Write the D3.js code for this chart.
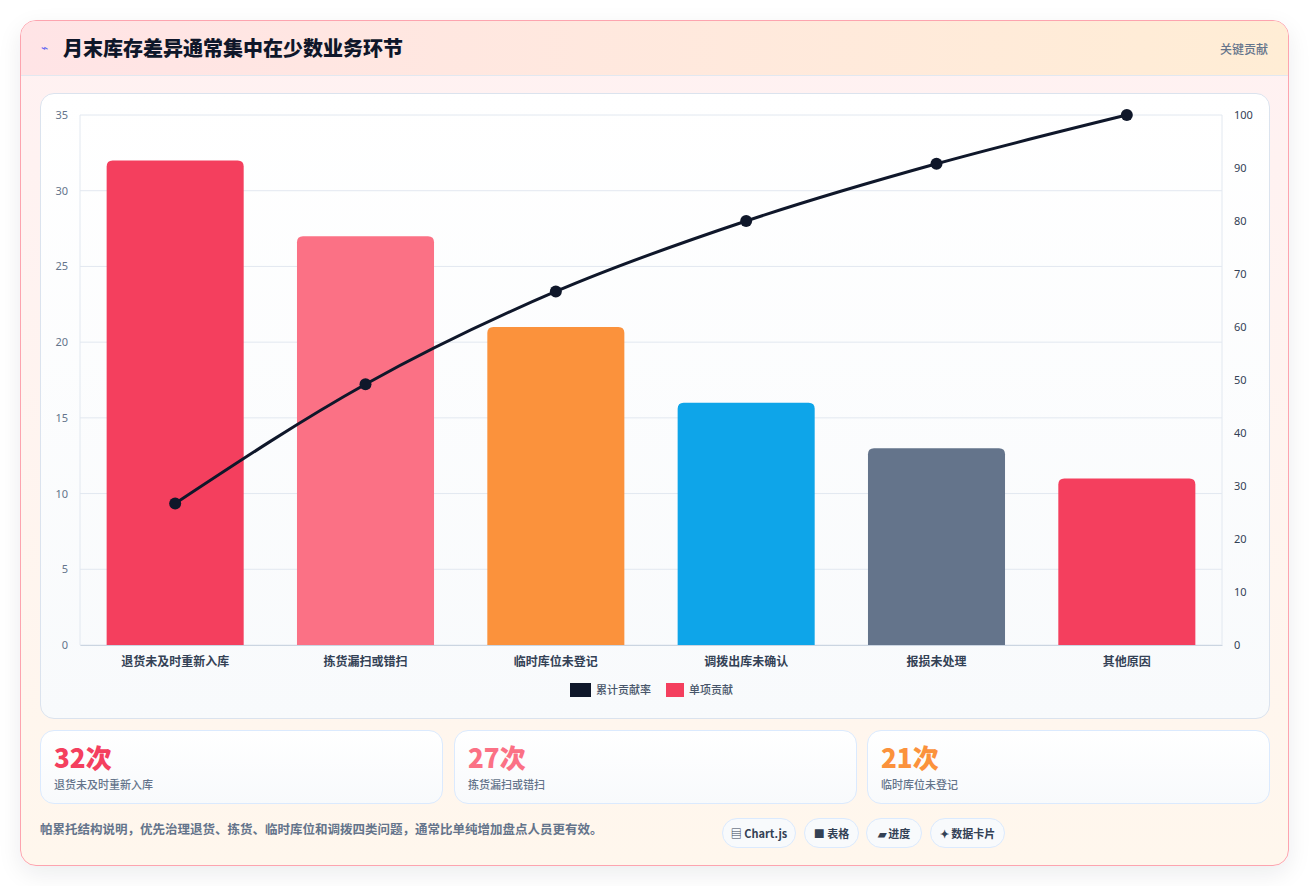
<!DOCTYPE html>
<html><head><meta charset="utf-8">
<script src="https://cdn.jsdelivr.net/npm/d3@7/dist/d3.min.js"></script>
<style>
*{box-sizing:border-box}
body{margin:0;width:1309px;height:886px;background:#fff;font-family:"Noto Sans CJK SC","Noto Sans",sans-serif;position:relative;overflow:hidden}
.card{position:absolute;left:20px;top:20px;width:1269px;height:846px;border:1px solid #fda4af;border-radius:16px;background:linear-gradient(180deg,#fff1f2,#fff7ed);box-shadow:0 8px 24px rgba(15,23,42,.08);overflow:hidden}
.hdr{position:absolute;left:0;top:0;right:0;height:55px;background:linear-gradient(90deg,#ffe4e6,#ffedd5);border-bottom:1px solid #e2e8f0}
.hdr .t{position:absolute;left:42px;top:12px;font-size:20px;font-weight:900;color:#0f172a}
.hdr .ic{position:absolute;left:20px;top:17px;font-size:12px;color:#6366f1}
.hdr .r{position:absolute;right:20px;top:19px;font-size:12px;color:#64748b;font-weight:500}
.panel{position:absolute;left:19px;top:72px;width:1230px;height:626px;background:linear-gradient(180deg,#fff,#f8fafc);border:1px solid #dbe3ee;border-radius:14px}
svg{position:absolute;left:0;top:0}
.kpi{position:absolute;top:709px;width:403px;height:74px;border:1px solid #dbeafe;border-radius:14px;background:linear-gradient(180deg,#fff,#f8fafc)}
.kpi .v{position:absolute;left:13px;top:7px;font-size:26px;font-weight:900}
.kpi .l{position:absolute;left:13px;top:45px;font-size:11px;color:#64748b;font-weight:500}
.foot{position:absolute;left:19px;top:798px;font-size:12.5px;color:#64748b;font-weight:700}
.btn{position:absolute;top:797px;height:30px;border:1px solid #dbeafe;border-radius:15px;background:#f8fafc;font-size:11px;font-weight:700;color:#334155;line-height:28px;text-align:center}
</style></head><body>
<div class="card">
<div class="hdr"><span class="ic">⌁</span><span class="t">月末库存差异通常集中在少数业务环节</span><span class="r">关键贡献</span></div>
<div class="panel"></div>
<div class="kpi" style="left:19px"><div class="v" style="color:#f43f5e">32次</div><div class="l">退货未及时重新入库</div></div>
<div class="kpi" style="left:433px"><div class="v" style="color:#fb7185">27次</div><div class="l">拣货漏扫或错扫</div></div>
<div class="kpi" style="left:846px"><div class="v" style="color:#fb923c">21次</div><div class="l">临时库位未登记</div></div>
<div class="foot">帕累托结构说明，优先治理退货、拣货、临时库位和调拨四类问题，通常比单纯增加盘点人员更有效。</div>
<div class="btn" style="left:701px;width:74px">▤ Chart.js</div>
<div class="btn" style="left:783px;width:55px">■ 表格</div>
<div class="btn" style="left:845px;width:56px">▰ 进度</div>
<div class="btn" style="left:909px;width:75px">✦ 数据卡片</div>
</div>
<svg id="c" width="1309" height="886"></svg>
<script>
const categories=["退货未及时重新入库","拣货漏扫或错扫","临时库位未登记","调拨出库未确认","报损未处理","其他原因"];
const counts=[32,27,21,16,13,11];
const cumulative=[26.7,49.2,66.7,80.0,90.8,100];
const colors=["#f43f5e","#fb7185","#fb923c","#0ea5e9","#64748b","#f43f5e"];
const leftTicks=[0,5,10,15,20,25,30,35];
const rightTicks=[0,10,20,30,40,50,60,70,80,90,100];
const svg=d3.select("#c");
const L=80,R=1222,T=115,B=645;
const x=d3.scaleBand().domain(categories).range([L,R]).paddingInner(0.28).paddingOuter(0.14);
const y=d3.scaleLinear().domain([0,35]).range([B,T]);
const y2=d3.scaleLinear().domain([0,100]).range([B,T]);
const g=svg.append("g");
g.selectAll("line.gr").data(leftTicks).join("line").attr("x1",L).attr("x2",R).attr("y1",d=>y(d)).attr("y2",d=>y(d)).attr("stroke","#e2e8f0");
g.append("line").attr("x1",L).attr("x2",L).attr("y1",T).attr("y2",B).attr("stroke","#e2e8f0");
g.append("line").attr("x1",R).attr("x2",R).attr("y1",T).attr("y2",B).attr("stroke","#e2e8f0");
const ax=svg.append("g").attr("transform",`translate(0,${B})`).call(d3.axisBottom(x).tickSize(0).tickPadding(12));
ax.select(".domain").attr("stroke","#cbd5e1");
ax.selectAll("text").attr("font-size",12).attr("font-weight",700).attr("fill","#334155").attr("font-family","Noto Sans CJK SC");
const ay=svg.append("g").attr("transform",`translate(${L},0)`).call(d3.axisLeft(y).tickValues(leftTicks).tickSize(0).tickPadding(12));
ay.select(".domain").remove();
ay.selectAll("text").attr("font-size",11).attr("fill","#64748b").attr("font-family","Noto Sans");
const ay2=svg.append("g").attr("transform",`translate(${R},0)`).call(d3.axisRight(y2).tickValues(rightTicks).tickSize(0).tickPadding(12));
ay2.select(".domain").remove();
ay2.selectAll("text").attr("font-size",11).attr("fill","#334155").attr("font-family","Noto Sans");
svg.selectAll("path.bar").data(categories).join("path").attr("fill",(d,i)=>colors[i]).attr("d",(d,i)=>{
 const x0=x(d),w=x.bandwidth(),y0=y(counts[i]),r=6;
 return `M${x0},${B}V${y0+r}Q${x0},${y0} ${x0+r},${y0}H${x0+w-r}Q${x0+w},${y0} ${x0+w},${y0+r}V${B}Z`;});
const pts=categories.map((c,i)=>[x(c)+x.bandwidth()/2,y2(cumulative[i])]);
svg.append("path").attr("d",d3.line().curve(d3.curveMonotoneX)(pts)).attr("fill","none").attr("stroke","#0f172a").attr("stroke-width",3);
svg.selectAll("circle").data(pts).join("circle").attr("cx",d=>d[0]).attr("cy",d=>d[1]).attr("r",6).attr("fill","#0f172a");
const lg=svg.append("g").attr("font-size",11).attr("fill","#475569").attr("font-weight",500).attr("font-family","Noto Sans CJK SC");
lg.append("rect").attr("x",570).attr("y",683).attr("width",21).attr("height",14).attr("fill","#0f172a");
lg.append("text").attr("x",596).attr("y",694).text("累计贡献率");
lg.append("rect").attr("x",666).attr("y",683).attr("width",18).attr("height",14).attr("fill","#f43f5e");
lg.append("text").attr("x",689).attr("y",694).text("单项贡献");
</script></body></html>
